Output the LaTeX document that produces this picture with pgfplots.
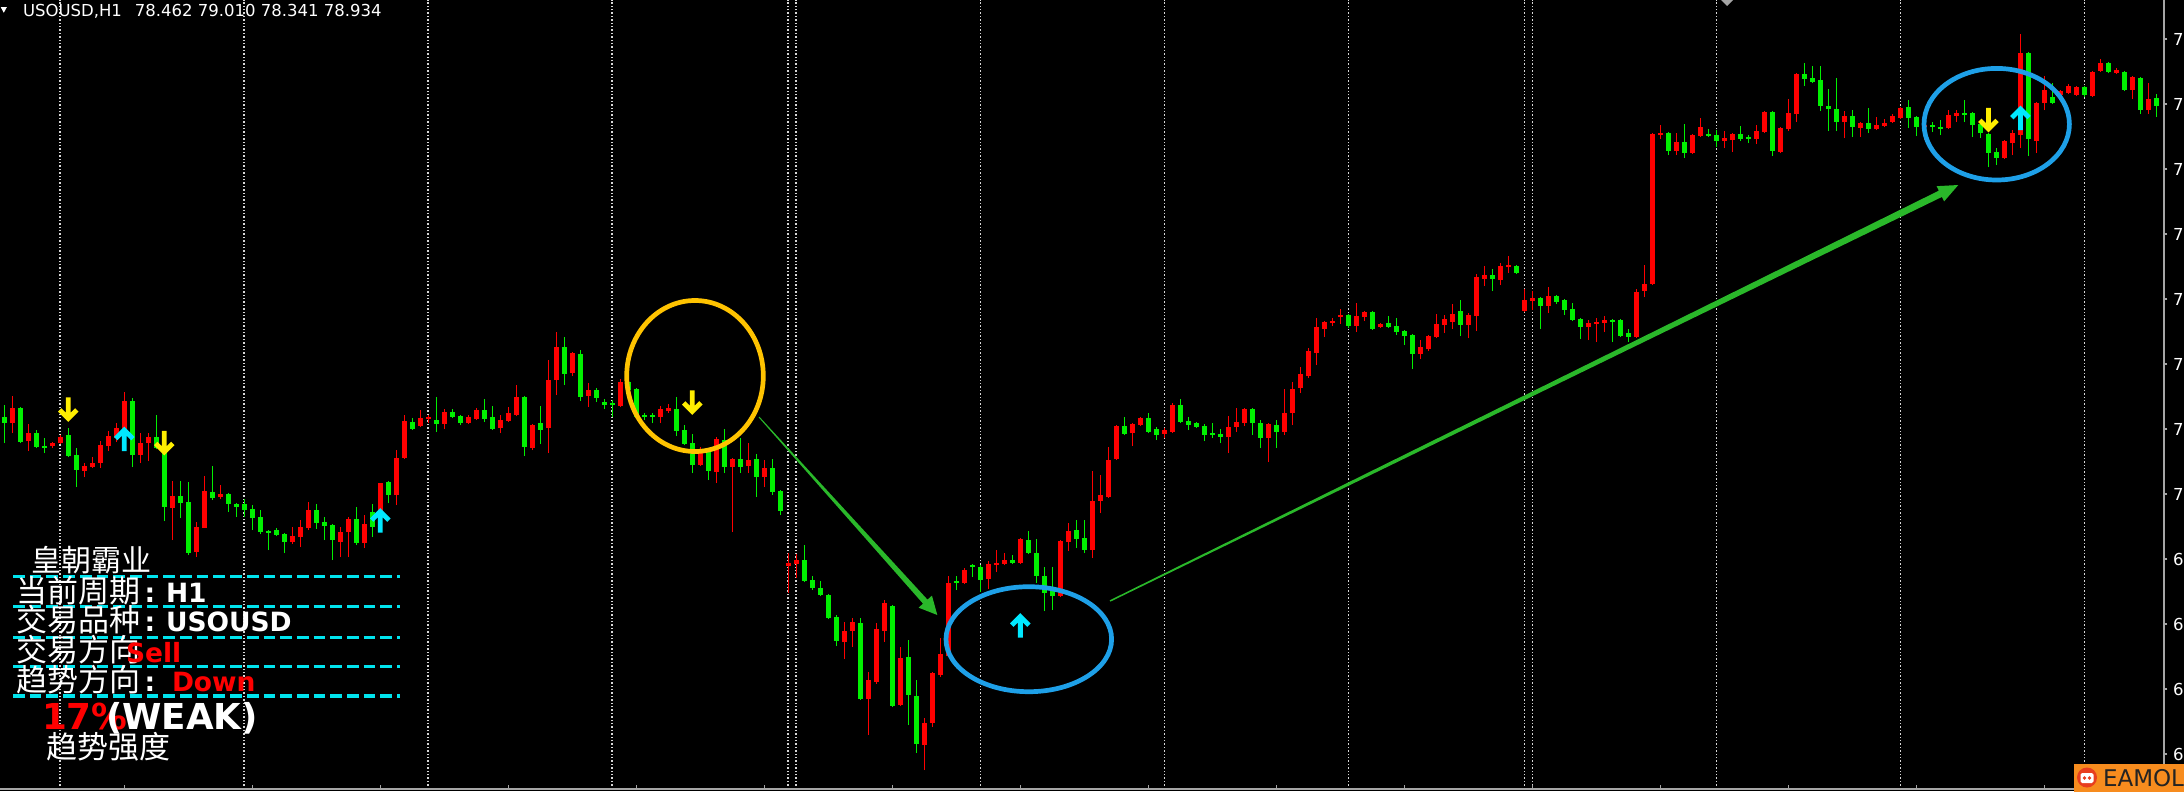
\documentclass[border=0pt]{standalone}
\usepackage{fontspec}
\setmainfont{DejaVu Sans}
\newfontfamily\cjk{Noto Sans CJK SC}
\usepackage{pgfplots}
\pgfplotsset{compat=1.18}
\usepackage{pgfplotstable}
\definecolor{cred}{RGB}{255,0,0}
\definecolor{cgreen}{RGB}{0,240,0}
\definecolor{gold}{RGB}{255,195,0}
\definecolor{eblue}{RGB}{30,160,232}
\definecolor{agreen}{RGB}{42,184,42}
\definecolor{sigcyan}{RGB}{0,232,255}
\definecolor{sigyellow}{RGB}{255,238,0}
\definecolor{dashcyan}{RGB}{0,228,238}
\definecolor{gridgray}{RGB}{215,215,215}
\definecolor{axgray}{RGB}{165,165,165}
\definecolor{logoorange}{RGB}{247,140,30}
\definecolor{logored}{RGB}{232,62,30}
\definecolor{logotext}{RGB}{35,35,35}

\pgfdeclareplotmark{dnarr}{%
  \pgfpathmoveto{\pgfpoint{0bp}{5.6bp}}%
  \pgfpathlineto{\pgfpoint{0bp}{-5.0bp}}%
  \pgfpathmoveto{\pgfpoint{-4.3bp}{-0.7bp}}%
  \pgfpathlineto{\pgfpoint{0bp}{-5.0bp}}%
  \pgfpathlineto{\pgfpoint{4.3bp}{-0.7bp}}%
  \pgfusepathqstroke}
\pgfdeclareplotmark{uparr}{%
  \pgfpathmoveto{\pgfpoint{0bp}{-5.6bp}}%
  \pgfpathlineto{\pgfpoint{0bp}{5.0bp}}%
  \pgfpathmoveto{\pgfpoint{-4.3bp}{0.7bp}}%
  \pgfpathlineto{\pgfpoint{0bp}{5.0bp}}%
  \pgfpathlineto{\pgfpoint{4.3bp}{0.7bp}}%
  \pgfusepathqstroke}

% up candles (red): index, open, high, low, close
\pgfplotstableread{
k o h l c
1 72.04 72.58 71.84 72.34
3 71.68 72.02 71.48 71.84
6 71.58 71.66 71.54 71.64
7 71.64 71.80 71.62 71.76
10 71.08 71.24 70.96 71.18
11 71.16 71.36 71.14 71.24
12 71.24 71.68 71.14 71.60
13 71.58 71.88 71.48 71.78
14 71.74 72.04 71.66 71.94
15 71.86 72.66 71.76 72.48
17 71.40 71.84 71.24 71.64
18 71.64 71.84 71.28 71.76
21 70.34 70.88 69.70 70.58
24 69.46 70.06 69.36 69.96
25 69.94 70.98 69.94 70.68
27 70.56 70.80 70.52 70.62
36 69.66 69.96 69.62 69.78
37 69.76 70.10 69.56 69.96
38 69.94 70.46 69.90 70.30
42 69.66 69.96 69.36 69.86
43 69.86 70.16 69.36 70.12
45 69.64 70.20 69.54 70.02
47 70.24 70.84 70.16 70.84
49 70.60 71.50 70.40 71.34
50 71.34 72.20 71.32 72.08
52 71.98 72.30 71.96 72.14
53 72.12 72.20 72.04 72.16
55 72.02 72.32 71.92 72.26
58 72.04 72.20 72.02 72.16
59 72.12 72.34 72.10 72.30
62 71.94 72.20 71.84 72.10
63 72.08 72.36 72.06 72.24
64 72.20 72.80 72.18 72.56
66 71.54 72.02 71.50 72.00
68 71.94 73.30 71.44 72.90
69 72.90 73.86 72.60 73.56
71 73.04 73.46 72.98 73.44
73 72.58 72.84 72.36 72.70
77 72.38 72.92 72.36 72.86
82 72.16 72.38 72.04 72.32
83 72.28 72.42 72.24 72.34
87 71.20 71.56 71.18 71.46
89 71.06 71.76 70.84 71.72
91 71.16 71.34 69.86 71.32
93 71.18 71.64 71.04 71.30
95 70.96 71.30 70.76 71.14
98 69.18 69.44 68.64 69.24
99 69.22 69.42 68.94 69.30
105 67.66 68.06 67.32 67.88
106 67.88 68.14 67.56 68.06
108 66.52 67.06 65.80 66.90
109 66.86 68.04 66.82 67.92
110 67.88 68.50 67.66 68.44
112 66.40 67.56 66.38 67.34
115 65.60 66.14 65.10 66.04
116 66.04 67.06 65.96 67.04
117 67.00 67.74 66.96 67.42
118 67.38 68.98 67.36 68.84
120 68.84 69.14 68.82 69.10
123 68.92 69.28 68.72 69.22
124 69.20 69.50 69.06 69.24
125 69.22 69.44 69.20 69.30
127 69.24 69.74 69.22 69.72
132 68.58 69.70 68.56 69.68
133 69.66 70.04 69.48 69.88
136 69.50 71.08 69.34 70.48
137 70.48 71.00 70.24 70.60
138 70.56 71.56 70.54 71.30
139 71.32 72.00 71.30 71.98
141 71.84 72.04 71.58 72.02
142 72.00 72.16 71.98 72.14
145 71.82 71.94 71.74 71.90
146 71.86 72.44 71.84 72.40
153 71.76 72.18 71.44 71.96
154 71.96 72.34 71.86 72.06
155 72.04 72.34 71.98 72.32
158 71.74 72.04 71.26 72.02
160 71.86 72.72 71.80 72.24
161 72.24 72.86 72.00 72.72
162 72.74 73.16 72.64 73.02
163 72.98 73.54 72.94 73.48
164 73.44 74.14 73.20 73.96
165 73.92 74.08 73.76 74.06
166 74.04 74.14 73.98 74.08
167 74.16 74.32 74.02 74.20
169 73.98 74.44 73.86 74.18
170 74.16 74.28 74.08 74.26
172 73.96 74.04 73.94 74.02
177 73.42 73.70 73.32 73.56
178 73.52 73.80 73.48 73.78
179 73.76 74.22 73.74 74.02
180 74.00 74.20 73.84 74.12
181 74.06 74.42 73.92 74.22
183 74.00 74.24 73.74 74.20
184 74.18 75.02 73.88 74.96
185 74.92 75.18 74.78 75.00
187 74.90 75.24 74.80 75.18
188 75.16 75.38 75.04 75.20
190 74.28 74.72 74.26 74.50
191 74.48 74.68 74.30 74.54
193 74.38 74.76 74.24 74.58
198 73.96 74.10 73.70 74.04
199 74.02 74.14 73.66 74.06
200 74.04 74.18 73.86 74.10
204 73.76 74.72 73.74 74.66
205 74.68 75.20 74.56 74.82
206 74.82 77.84 74.80 77.82
207 77.80 78.00 77.72 77.84
209 77.48 77.84 77.40 77.66
211 77.44 77.82 77.42 77.80
212 77.78 78.14 77.76 77.96
215 77.68 77.88 77.54 77.74
216 77.70 77.84 77.46 77.82
219 77.72 78.00 77.62 77.88
220 77.86 78.28 77.84 78.26
222 77.46 77.96 77.44 77.94
223 77.92 78.52 77.88 78.24
224 78.22 79.04 78.06 79.02
230 78.06 78.28 77.74 78.18
232 77.94 78.06 77.76 78.04
234 77.92 78.16 77.90 78.00
235 77.98 78.12 77.96 78.04
236 78.06 78.22 78.04 78.18
237 78.14 78.36 78.12 78.34
240 77.96 78.02 77.70 78.00
243 77.94 78.30 77.92 78.20
244 78.18 78.30 78.06 78.24
250 77.34 77.70 77.32 77.68
251 77.64 77.90 77.40 77.84
252 77.80 79.82 77.54 79.44
254 77.68 78.46 77.44 78.44
255 78.44 78.98 78.30 78.70
257 78.60 78.70 78.58 78.68
258 78.64 78.82 78.62 78.78
259 78.60 78.78 78.58 78.76
261 78.58 79.08 78.56 79.06
262 79.08 79.32 79.06 79.24
264 79.04 79.14 79.02 79.10
266 78.70 78.98 78.52 78.96
268 78.30 78.84 78.22 78.52
}\redtab

% down candles (green): index, open, high, low, close
\pgfplotstableread{
k o h l c
0 72.16 72.40 71.64 72.04
2 72.34 72.36 71.64 71.66
4 71.84 71.90 71.54 71.56
5 71.58 71.74 71.44 71.54
8 71.80 71.94 71.36 71.38
9 71.40 71.54 70.76 71.10
16 72.48 72.54 71.16 71.40
19 71.76 72.20 71.52 71.54
20 71.44 71.50 70.08 70.36
22 70.58 70.88 70.14 70.44
23 70.46 70.86 69.40 69.44
26 70.66 71.18 70.50 70.54
28 70.62 70.64 70.26 70.42
29 70.42 70.44 70.16 70.36
30 70.42 70.52 70.16 70.30
31 70.32 70.40 69.90 70.14
32 70.16 70.30 69.82 69.86
33 69.88 69.90 69.50 69.84
34 69.90 69.94 69.78 69.80
35 69.82 69.84 69.44 69.66
39 70.30 70.42 69.92 70.04
40 70.06 70.16 69.70 69.98
41 70.00 70.02 69.30 69.70
44 70.12 70.36 69.60 69.64
46 70.26 70.42 69.76 69.96
48 70.86 70.88 70.44 70.60
51 72.06 72.14 71.90 71.92
54 72.10 72.56 71.86 72.02
56 72.26 72.32 72.14 72.16
57 72.18 72.20 72.00 72.04
60 72.30 72.52 72.06 72.12
61 72.16 72.38 71.90 71.92
65 72.56 72.58 71.38 71.56
67 72.04 72.38 71.62 71.90
70 73.56 73.76 72.80 73.02
72 73.42 73.50 72.48 72.56
74 72.70 72.74 72.46 72.54
75 72.46 72.52 72.32 72.40
76 72.44 72.50 72.16 72.40
78 72.86 72.94 72.56 72.70
79 72.72 72.74 72.14 72.16
80 72.20 72.24 72.10 72.16
81 72.20 72.24 72.04 72.16
84 72.32 72.56 71.78 71.88
85 71.90 72.00 71.60 71.62
86 71.64 71.82 71.04 71.20
88 71.46 71.54 70.90 71.08
90 71.70 71.92 71.04 71.16
92 71.32 71.74 71.04 71.16
94 71.32 71.42 70.56 70.96
96 71.14 71.32 70.60 70.66
97 70.68 70.70 70.20 70.28
100 69.30 69.60 68.86 68.88
101 68.90 68.98 68.70 68.74
102 68.74 68.88 68.58 68.60
103 68.60 68.62 68.12 68.14
104 68.16 68.20 67.58 67.68
107 68.04 68.14 66.50 66.52
111 68.38 68.40 66.36 66.38
113 67.36 67.70 66.00 66.60
114 66.58 66.90 65.44 65.62
119 68.88 68.98 68.70 68.84
121 69.20 69.22 68.96 69.16
122 69.16 69.20 68.66 68.90
126 69.30 69.40 69.22 69.24
128 69.70 69.88 69.42 69.44
129 69.44 69.72 68.84 68.98
130 68.98 69.16 68.28 68.64
131 68.74 69.16 68.30 68.58
134 69.90 70.10 69.54 69.72
135 69.74 70.10 69.44 69.50
140 71.98 72.16 71.80 71.82
143 72.14 72.24 71.84 71.86
144 71.92 71.96 71.70 71.80
147 72.40 72.52 72.04 72.06
148 72.08 72.16 71.90 72.00
149 72.04 72.06 71.94 71.96
150 71.98 72.02 71.68 71.80
151 71.84 72.04 71.74 71.80
152 71.82 71.92 71.64 71.76
156 72.32 72.34 71.80 72.04
157 72.04 72.10 71.54 71.74
159 72.00 72.10 71.54 71.86
168 74.20 74.22 73.94 73.98
171 74.26 74.28 73.90 73.92
173 74.04 74.18 73.94 73.96
174 73.98 74.14 73.80 73.86
175 73.88 73.90 73.60 73.78
176 73.80 73.82 73.12 73.42
182 74.28 74.50 73.78 74.00
186 75.00 75.12 74.68 74.92
189 75.18 75.20 75.02 75.04
192 74.54 74.56 73.92 74.38
194 74.58 74.60 74.42 74.46
195 74.50 74.52 74.20 74.30
196 74.32 74.44 74.08 74.10
197 74.12 74.14 73.72 73.96
201 74.10 74.12 73.66 74.06
202 74.10 74.12 73.76 73.78
203 73.84 73.92 73.66 73.76
208 77.84 77.86 77.40 77.48
210 77.66 78.02 77.34 77.44
213 77.82 77.92 77.76 77.78
214 77.80 77.90 77.56 77.68
217 77.82 77.98 77.68 77.72
218 77.76 77.80 77.64 77.72
221 78.26 78.28 77.38 77.48
225 79.02 79.24 78.78 78.92
226 78.94 79.18 78.84 78.86
227 78.90 79.18 78.28 78.38
228 78.38 78.72 77.88 78.32
229 78.32 78.94 77.88 78.06
231 78.18 78.30 77.76 77.96
233 78.04 78.34 77.84 77.92
238 78.36 78.50 77.94 78.14
239 78.16 78.18 77.78 77.96
241 78.00 78.06 77.86 77.96
242 77.96 78.10 77.80 77.92
245 78.24 78.50 78.06 78.20
246 78.24 78.26 77.76 78.00
247 78.02 78.10 77.74 77.84
248 77.82 77.84 77.16 77.44
249 77.46 77.54 77.20 77.34
253 79.44 79.46 77.38 77.72
256 78.56 78.84 78.42 78.44
260 78.76 78.78 78.56 78.60
263 79.24 79.26 79.04 79.06
265 79.06 79.08 78.68 78.70
267 78.94 78.96 78.22 78.30
269 78.54 78.62 78.16 78.38
}\greentab

\pgfplotstableread{
k y
8 72.33
20 71.66
86 72.47
248 78.12
}\selltab

\pgfplotstableread{
k y
15 71.70
47 70.07
127 67.97
252 78.12
}\buytab

\begin{document}
\begin{tikzpicture}
\begin{scope}[x=0.5bp,y=-0.5bp]
\fill[black] (0,0) rectangle (2184,791);
\end{scope}
\begin{axis}[
  at={(0,0)}, anchor=north west,
  scale only axis, width=1082bp, height=394.5bp,
  xmin=-0.5375, xmax=269.9625, ymin=64.72, ymax=80.5,
  axis x line*=bottom, axis y line*=right,
  axis line style={draw=axgray, line width=0.7bp},
  xtick={7,30,53,76,98,99,122,145,168,190,191,214,237,260},
  xticklabel=\empty,
  xmajorgrids,
  major grid style={draw=gridgray, line width=0.85bp, dash pattern=on 0.7bp off 1.0bp},
  minor xtick={15,31,...,255},
  tick style={draw=axgray, line width=0.6bp},
  every major x tick/.style={draw=none},
  xtick align=inside, ytick align=outside,
  major tick length=1.6bp, minor tick length=2bp,
  ytick={65.42,66.72,68.02,69.32,70.62,71.92,73.22,74.52,75.82,77.12,78.42,79.72},
  yticklabels={65.420,66.720,68.020,69.320,70.620,71.920,73.220,74.520,75.820,77.120,78.420,79.720},
  yticklabel style={font=\fontsize{8.25bp}{10bp}\selectfont, text=white, anchor=west, inner sep=0pt, xshift=2.7bp},
]
\addplot[draw=cred, line width=0.8bp, quiver={u=0, v=\thisrow{h}-\thisrow{l}}] table[x=k, y=l] {\redtab};
\addplot[draw=cgreen, line width=0.8bp, quiver={u=0, v=\thisrow{h}-\thisrow{l}}] table[x=k, y=l] {\greentab};
\addplot[draw=cred, line width=2.4bp, quiver={u=0, v=\thisrow{c}-\thisrow{o}}] table[x=k, y=o] {\redtab};
\addplot[draw=cgreen, line width=2.4bp, quiver={u=0, v=\thisrow{c}-\thisrow{o}}] table[x=k, y=o] {\greentab};
\addplot[only marks, mark=dnarr, mark options={draw=sigyellow, line width=2.4bp, solid}] table[x=k, y=y] {\selltab};
\addplot[only marks, mark=uparr, mark options={draw=sigcyan, line width=2.4bp, solid}] table[x=k, y=y] {\buytab};
\end{axis}

\begin{scope}[x=0.5bp,y=-0.5bp, every node/.style={inner sep=0pt, outer sep=0pt, text=white}]
% top marker
\fill[axgray] (1721,0) -- (1733,0) -- (1727,6) -- cycle;
% header
\fill[white] (0.8,7.2) -- (6.8,7.2) -- (3.8,12.8) -- cycle;
\node[anchor=base west, font=\fontsize{8.25bp}{10bp}\selectfont] at (23,16) {USOUSD,H1\hspace{6.5bp}78.462 79.010 78.341 78.934};
% ellipses
\draw[gold, line width=2.35bp] (695,376) ellipse [x radius=34.15bp, y radius=37.75bp];
\draw[eblue, line width=2.35bp] (1028.8,639.2) ellipse [x radius=41.4bp, y radius=26.25bp];
\draw[eblue, line width=2.35bp] (1996.7,124.2) ellipse [x radius=36.35bp, y radius=27.9bp];
% green arrows
\fill[agreen] (758.63,417.33) -- (923.03,603.64) -- (918.57,607.65) -- (937.3,615) -- (931.95,595.61) -- (927.49,599.62) -- (759.37,416.67) -- cycle;
\fill[agreen] (1110.33,601.67) -- (1941.88,196.95) -- (1944.08,201.44) -- (1958.3,185) -- (1936.60,186.18) -- (1938.80,190.67) -- (1109.67,600.33) -- cycle;
% panel
\foreach \yy in {576.7,606.7,637.3,666.7,696}
  \draw[dashcyan, line width=1.65bp, dash pattern=on 5.85bp off 2.5bp] (13,\yy) -- (400,\yy);
\node[anchor=base west] at (31,571) {\fontsize{15bp}{18bp}\cjk 皇朝霸业};
\node[anchor=base west] at (16,602) {\fontsize{15.5bp}{18bp}\cjk 当前周期};
\node[anchor=base west] at (144.5,602) {\fontsize{13.25bp}{16bp}\bfseries :};
\node[anchor=base west] at (166,602) {\fontsize{13.25bp}{16bp}\bfseries H1};
\node[anchor=base west] at (16,631) {\fontsize{15.5bp}{18bp}\cjk 交易品种};
\node[anchor=base west] at (144.5,631) {\fontsize{13.25bp}{16bp}\bfseries :};
\node[anchor=base west] at (166,631) {\fontsize{13.25bp}{16bp}\bfseries USOUSD};
\node[anchor=base west] at (16,661) {\fontsize{15.5bp}{18bp}\cjk 交易方向};
\node[anchor=base west, text=cred] at (126,662) {\fontsize{13.25bp}{16bp}\bfseries Sell};
\node[anchor=base west] at (16,691) {\fontsize{15.5bp}{18bp}\cjk 趋势方向};
\node[anchor=base west] at (144.5,691) {\fontsize{13.25bp}{16bp}\bfseries :};
\node[anchor=base west, text=cred] at (172,691) {\fontsize{13.25bp}{16bp}\bfseries Down};
\node[anchor=base west, text=cred] at (42,729) {\fontsize{17.85bp}{20bp}\bfseries 17\%};
\node[anchor=base west] at (106,729) {\fontsize{17.85bp}{20bp}\bfseries (WEAK)};
\node[anchor=base west] at (46,758) {\fontsize{15.5bp}{18bp}\cjk 趋势强度};
% logo
\fill[logoorange] (2074,764) rectangle (2200,800);
\fill[logored] (2087,777.5) circle [radius=5bp];
\fill[white, rounded corners=0.8bp] (2080.5,773) rectangle (2093.5,783);
\fill[logored] (2084.5,778) circle [radius=0.9bp];
\fill[logored] (2089.5,778) circle [radius=0.9bp];
\node[anchor=base west, text=logotext] at (2103,786.5) {\fontsize{11.5bp}{13bp}\selectfont EAMOL};
\pgfresetboundingbox
\path[use as bounding box] (0,0) rectangle (2184,791);
\end{scope}
\end{tikzpicture}
\end{document}
